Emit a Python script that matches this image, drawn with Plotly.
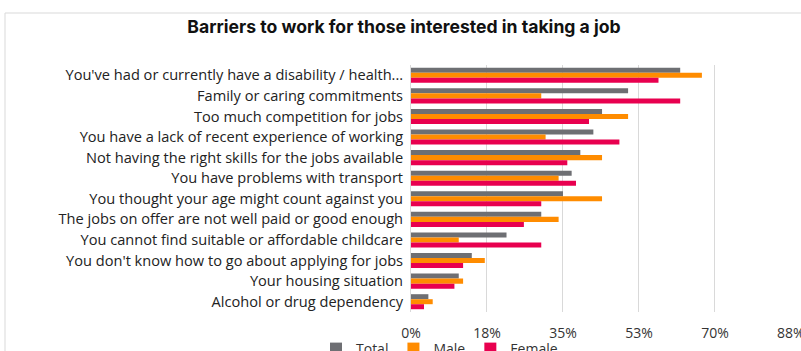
import plotly.graph_objects as go

categories = [
    "You've had or currently have a disability / health...",
    "Family or caring commitments",
    "Too much competition for jobs",
    "You have a lack of recent experience of working",
    "Not having the right skills for the jobs available",
    "You have problems with transport",
    "You thought your age might count against you",
    "The jobs on offer are not well paid or good enough",
    "You cannot find suitable or affordable childcare",
    "You don't know how to go about applying for jobs",
    "Your housing situation",
    "Alcohol or drug dependency",
]
total = [0.62, 0.50, 0.44, 0.42, 0.39, 0.37, 0.35, 0.30, 0.22, 0.14, 0.11, 0.04]
male = [0.67, 0.30, 0.50, 0.31, 0.44, 0.34, 0.44, 0.34, 0.11, 0.17, 0.12, 0.05]
female = [0.57, 0.62, 0.41, 0.48, 0.36, 0.38, 0.30, 0.26, 0.30, 0.12, 0.10, 0.03]
tick_vals = [0, 0.175, 0.35, 0.525, 0.70, 0.875]
tick_text = ["0%", "18%", "35%", "53%", "70%", "88%"]

series = [("Total", total, "#6e6f73"), ("Male", male, "#ff8c00"), ("Female", female, "#e8004f")]

fig = go.Figure()
for name, vals, col in series:
    fig.add_trace(go.Bar(y=categories, x=vals, name=name, orientation="h",
                         marker=dict(color=col, line=dict(width=0))))

L, R, T, B = 411, 10, 65, 39
W, H = 801, 351
pw = W - L - R
ph = H - T - B

fig.update_layout(
    width=W, height=H,
    margin=dict(l=L, r=R, t=T, b=B, autoexpand=False),
    paper_bgcolor="white", plot_bgcolor="white",
    barmode="group", bargap=0.27, bargroupgap=0,
    font=dict(family="Open Sans", color="#222222", size=14),
    title=dict(text="<b>Barriers to work for those interested in taking a job</b>",
               x=404 / W, xanchor="center", xref="container", y=1 - 27 / H, yanchor="middle",
               yref="container",
               font=dict(family="Inter", size=17.6, color="#111111")),
    xaxis=dict(range=[0, 0.8752], tickvals=tick_vals, ticktext=tick_text,
               showgrid=True, gridcolor="#d9d9d9", gridwidth=1, zeroline=False,
               ticks="outside", ticklen=8, tickcolor="rgba(0,0,0,0)",
               ticklabeloverflow="allow",
               tickfont=dict(size=14, color="#333333"), showline=False, fixedrange=True,
               automargin=False),
    yaxis=dict(autorange="reversed", showline=True, linecolor="#d9d9d9", linewidth=1,
               ticks="", ticklabelstandoff=4, automargin=False,
               tickfont=dict(size=14.6, color="#222222"), fixedrange=True),
    legend=dict(orientation="h", x=(316 - L) / pw, xanchor="left",
                y=-(333 - (H - B)) / ph, yanchor="top",
                font=dict(size=14, color="#333333"), traceorder="normal",
                itemwidth=30, bgcolor="rgba(0,0,0,0)"),
    showlegend=True,
)

fig.add_shape(type="rect", xref="paper", yref="paper",
              x0=(5 - L) / pw, x1=(805 - L) / pw,
              y0=-(360 - (H - B)) / ph, y1=((H - B) - 13) / ph,
              line=dict(color="#d9d9d9", width=1), fillcolor="rgba(0,0,0,0)", layer="below")

fig.write_html("out.html")
